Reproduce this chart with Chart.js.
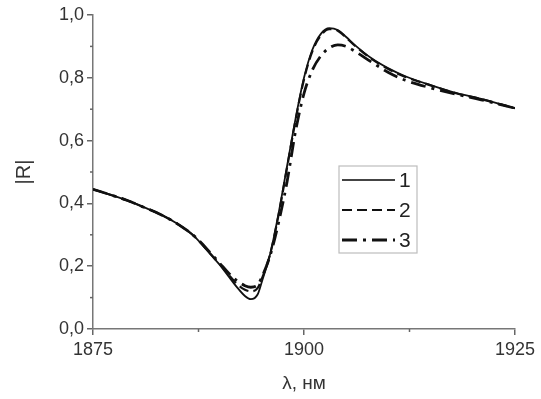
<!DOCTYPE html>
<html>
<head>
<meta charset="utf-8">
<script src="https://cdn.jsdelivr.net/npm/chart.js@4"></script>
<style>
  html, body { margin: 0; padding: 0; background: #fff; }
  #wrap { width: 541px; height: 399px; }
</style>
</head>
<body>
<div id="wrap"><canvas id="chart"></canvas></div>
<script>
const lambda = [1875, 1877, 1879, 1881, 1883, 1885, 1887, 1889, 1890, 1891, 1892, 1893, 1893.7, 1894.5, 1895, 1896, 1897, 1898, 1899, 1900, 1901, 1902, 1903, 1904, 1905, 1906, 1908, 1910, 1912, 1915, 1918, 1921, 1925];
const r1 = [0.445, 0.428, 0.41, 0.388, 0.365, 0.335, 0.295, 0.235, 0.205, 0.17, 0.135, 0.105, 0.095, 0.11, 0.15, 0.24, 0.37, 0.52, 0.67, 0.8, 0.89, 0.94, 0.958, 0.952, 0.93, 0.905, 0.862, 0.83, 0.805, 0.777, 0.752, 0.733, 0.703];
const r2 = [0.445, 0.428, 0.41, 0.388, 0.365, 0.335, 0.295, 0.237, 0.207, 0.175, 0.145, 0.125, 0.12, 0.13, 0.16, 0.24, 0.365, 0.515, 0.665, 0.795, 0.885, 0.935, 0.955, 0.95, 0.928, 0.903, 0.86, 0.828, 0.803, 0.776, 0.751, 0.732, 0.703];
const r3 = [0.445, 0.428, 0.41, 0.388, 0.365, 0.335, 0.296, 0.24, 0.21, 0.18, 0.155, 0.138, 0.133, 0.14, 0.165, 0.235, 0.34, 0.47, 0.63, 0.75, 0.825, 0.87, 0.895, 0.905, 0.9, 0.885, 0.85, 0.817, 0.792, 0.768, 0.748, 0.73, 0.703];
const seriesNames = ["1", "2", "3"];
const xTicks = [1875, 1900, 1925];

const pts = arr => lambda.map((x, i) => ({ x: x, y: arr[i] }));
const styles = [
  { borderWidth: 1.8, borderDash: [] },
  { borderWidth: 2.2, borderDash: [10, 5] },
  { borderWidth: 2.8, borderDash: [15, 6, 3, 6] }
];
const font = "'Liberation Sans', Arial, sans-serif";

const minorTicks = {
  id: "minorTicks",
  afterDraw(chart) {
    const ctx = chart.ctx;
    const xs = chart.scales.x, ys = chart.scales.y;
    ctx.save();
    ctx.strokeStyle = "#666";
    ctx.lineWidth = 1.5;
    [1887.5, 1912.5].forEach(v => {
      const p = xs.getPixelForValue(v);
      ctx.beginPath(); ctx.moveTo(p, ys.bottom); ctx.lineTo(p, ys.bottom + 3); ctx.stroke();
    });
    [0.1, 0.3, 0.5, 0.7, 0.9].forEach(v => {
      const p = ys.getPixelForValue(v);
      ctx.beginPath(); ctx.moveTo(xs.left, p); ctx.lineTo(xs.left - 3, p); ctx.stroke();
    });
    ctx.restore();
  }
};

const boxLegend = {
  id: "boxLegend",
  afterDraw(chart) {
    const ctx = chart.ctx;
    const left = 339, top = 166, w = 78, h = 87;
    ctx.save();
    ctx.strokeStyle = "#bdbdbd";
    ctx.lineWidth = 1.2;
    ctx.strokeRect(left, top, w, h);
    ctx.font = "21px " + font;
    ctx.fillStyle = "#222";
    ctx.textBaseline = "middle";
    chart.data.datasets.forEach((ds, i) => {
      const y = top + 14 + i * 30;
      ctx.strokeStyle = i === 0 ? "#444" : "#111";
      ctx.lineWidth = ds.borderWidth;
      ctx.setLineDash(ds.borderDash);
      ctx.beginPath(); ctx.moveTo(left + 3, y); ctx.lineTo(left + 56, y); ctx.stroke();
      ctx.setLineDash([]);
      ctx.fillText(ds.label, left + 60, y + 1);
    });
    ctx.restore();
  }
};

new Chart(document.getElementById("chart"), {
  type: "line",
  data: {
    datasets: [r1, r2, r3].map((arr, i) => ({
      label: seriesNames[i],
      data: pts(arr),
      borderColor: "#111",
      borderWidth: styles[i].borderWidth,
      borderDash: styles[i].borderDash,
      pointRadius: 0,
      fill: false,
      cubicInterpolationMode: "monotone"
    }))
  },
  options: {
    responsive: true,
    maintainAspectRatio: false,
    animation: false,
    layout: { padding: { top: 15, right: 26, left: 0, bottom: 0 } },
    plugins: { legend: { display: false }, tooltip: { enabled: false } },
    scales: {
      x: {
        type: "linear",
        min: 1875,
        max: 1925,
        afterBuildTicks: s => { s.ticks = xTicks.map(v => ({ value: v })); },
        afterFit: s => { s.height = 70; },
        border: { display: true, color: "#777", width: 1.5 },
        grid: { drawOnChartArea: false, color: "#666", tickLength: 6, lineWidth: 1.5 },
        ticks: { color: "#333", font: { family: font, size: 18 }, padding: 4, maxRotation: 0, callback: v => String(v) },
        title: { display: true, text: "λ, нм", color: "#333", font: { family: font, size: 19 }, padding: { top: 10 } }
      },
      y: {
        min: 0,
        max: 1,
        afterFit: s => { s.width = 93; },
        border: { display: true, color: "#777", width: 1.5 },
        grid: { drawOnChartArea: false, color: "#666", tickLength: 6, lineWidth: 1.5 },
        ticks: {
          stepSize: 0.2,
          color: "#333",
          padding: 3,
          font: { family: font, size: 18 },
          callback: v => v.toFixed(1).replace(".", ",")
        },
        title: { display: true, text: "|R|", color: "#333", font: { family: font, size: 20 }, padding: { top: 12, bottom: 0 } }
      }
    }
  },
  plugins: [minorTicks, boxLegend]
});
</script>
</body>
</html>
